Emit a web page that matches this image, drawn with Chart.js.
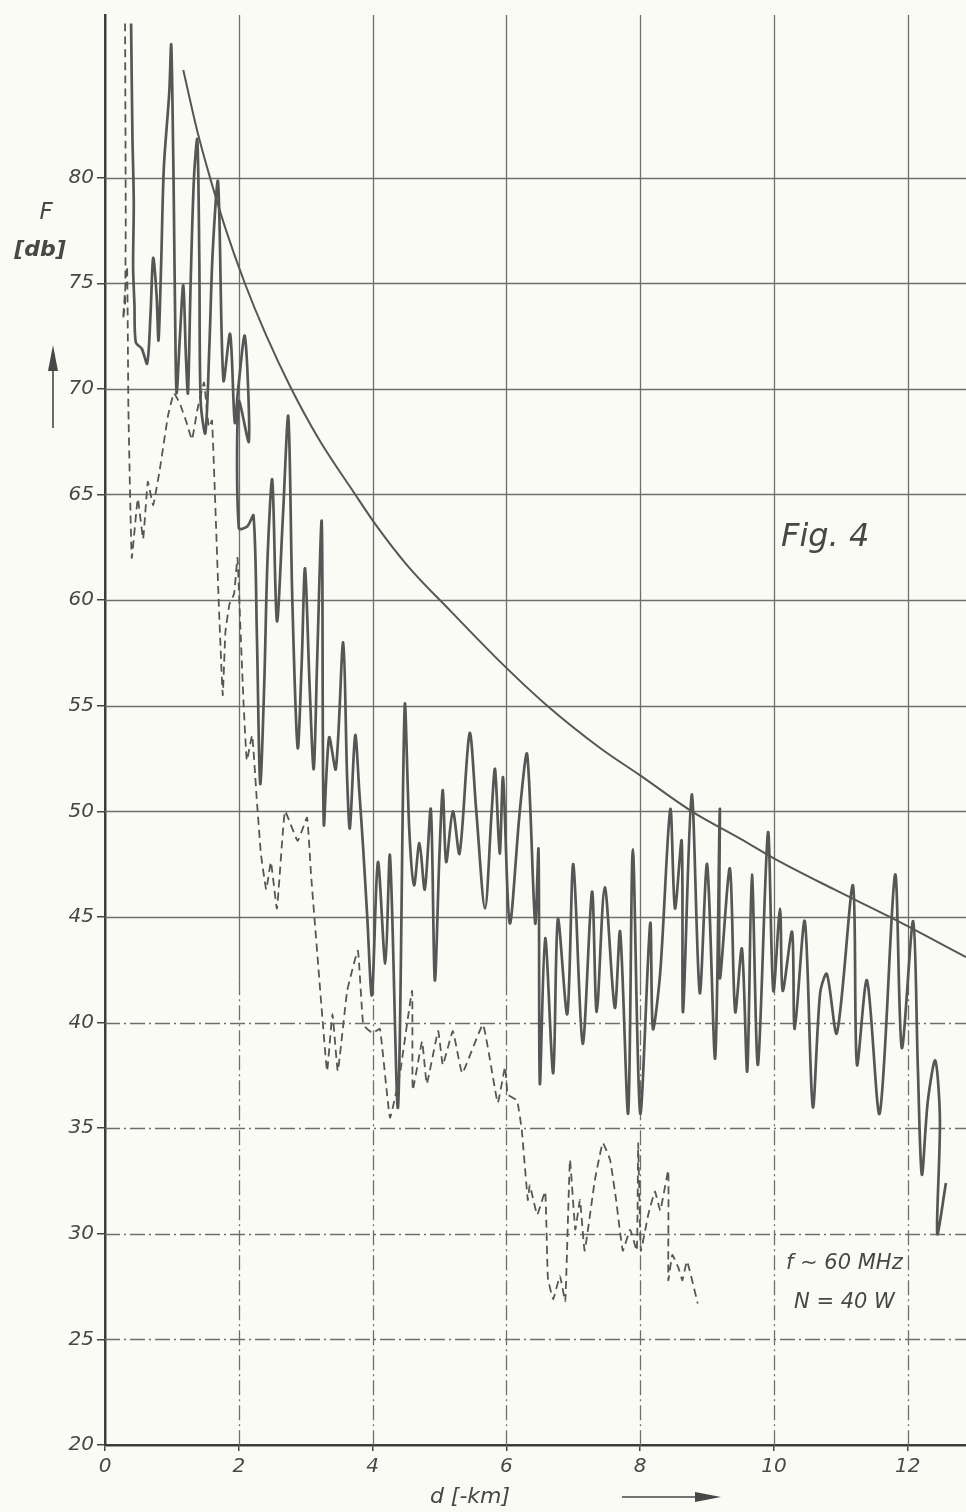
<!DOCTYPE html>
<html>
<head>
<meta charset="utf-8">
<script src="https://cdn.jsdelivr.net/npm/chart.js@4/dist/chart.umd.min.js"></script>
<style>
  html, body { margin: 0; padding: 0; background: #fbfbf6; }
  #wrap { width: 966px; height: 1512px; }
</style>
</head>
<body>
<div id="wrap"><canvas id="fig4" width="966" height="1512"></canvas></div>
<script>
// axis ticks
const xTicks = [0, 2, 4, 6, 8, 10, 12];
const yTicks = [20, 25, 30, 35, 40, 45, 50, 55, 60, 65, 70, 75, 80];

// measured field strength, solid trace (d in km, F in db)
const solidDist = [
  0.39, 0.41, 0.43, 0.42, 0.44, 0.46, 0.55, 0.63, 0.68, 0.72, 0.77, 0.80, 0.84, 0.88, 0.96, 0.99,
  1.02, 1.03, 1.05, 1.07, 1.12, 1.17, 1.21, 1.24, 1.28, 1.33, 1.38, 1.41, 1.43, 1.50, 1.56, 1.61,
  1.69, 1.77, 1.87, 1.94, 1.99, 2.09, 2.15, 2.00, 2.00, 2.13, 2.22, 2.27, 2.32, 2.38, 2.43, 2.50,
  2.57, 2.66, 2.74, 2.80, 2.88, 2.94, 2.99, 3.06, 3.12, 3.17, 3.24, 3.27, 3.35, 3.45, 3.56, 3.62,
  3.66, 3.74, 3.80, 3.86, 3.92, 3.99, 4.08, 4.19, 4.26, 4.38, 4.48, 4.55, 4.62, 4.70, 4.78, 4.87,
  4.93, 5.00, 5.05, 5.10, 5.20, 5.30, 5.45, 5.55, 5.68, 5.78, 5.83, 5.90, 5.95, 6.05, 6.20, 6.31,
  6.43, 6.48, 6.50, 6.58, 6.70, 6.77, 6.91, 7.00, 7.14, 7.28, 7.35, 7.47, 7.62, 7.70, 7.82, 7.89,
  8.00, 8.15, 8.19, 8.30, 8.45, 8.52, 8.62, 8.64, 8.77, 8.89, 9.00, 9.12, 9.19, 9.19, 9.34, 9.42,
  9.52, 9.60, 9.67, 9.76, 9.91, 9.99, 10.09, 10.13, 10.27, 10.31, 10.46, 10.58, 10.69, 10.79, 10.94, 11.18,
  11.24, 11.39, 11.58, 11.81, 11.91, 12.08, 12.15, 12.21, 12.30, 12.41, 12.48, 12.44, 12.57
];
const solidLevel = [
  87.3, 82.0, 78.8, 75.8, 74.0, 72.2, 71.9, 71.2, 73.5, 76.2, 74.5, 72.3, 76.0, 80.5, 84.0, 86.3,
  81.0, 78.5, 73.0, 69.8, 72.5, 74.9, 71.5, 69.8, 75.0, 80.0, 81.8, 76.0, 69.4, 67.9, 72.0, 76.5,
  79.8, 70.4, 72.6, 68.4, 70.0, 72.5, 67.5, 69.4, 63.4, 63.5, 64.0, 58.4, 51.3, 56.0, 62.0, 65.7,
  59.0, 64.0, 68.7, 60.0, 53.0, 57.0, 61.5, 55.8, 52.0, 57.0, 63.7, 49.4, 53.5, 52.0, 58.0, 51.5,
  49.2, 53.6, 51.0, 48.2, 45.0, 41.3, 47.6, 42.8, 47.9, 36.0, 55.0, 49.0, 46.5, 48.5, 46.3, 50.1,
  42.0, 48.0, 51.0, 47.6, 50.0, 48.0, 53.7, 50.0, 45.4, 50.0, 52.0, 48.0, 51.6, 44.7, 50.0, 52.7,
  44.7, 48.2, 37.1, 44.0, 37.6, 44.9, 40.4, 47.5, 39.0, 46.2, 40.5, 46.4, 40.7, 44.3, 35.7, 48.2,
  35.7, 44.7, 39.7, 42.4, 50.1, 45.4, 48.6, 40.5, 50.8, 41.4, 47.5, 38.3, 50.1, 42.1, 47.3, 40.5,
  43.5, 37.7, 47.0, 38.0, 49.0, 41.5, 45.4, 41.5, 44.3, 39.7, 44.8, 36.0, 41.4, 42.3, 39.5, 46.5,
  38.0, 42.0, 35.7, 47.0, 38.8, 44.8, 37.9, 32.8, 36.3, 38.2, 35.4, 30.0, 32.4
];

// second measurement, dashed trace
const dashedDist = [
  0.30, 0.31, 0.30, 0.27, 0.33, 0.35, 0.40, 0.49, 0.57, 0.64, 0.72, 0.82, 0.94, 1.03, 1.12, 1.22,
  1.30, 1.38, 1.48, 1.55, 1.60, 1.66, 1.70, 1.76, 1.80, 1.86, 1.93, 1.98, 2.02, 2.07, 2.12, 2.20,
  2.27, 2.33, 2.41, 2.48, 2.57, 2.69, 2.88, 3.02, 3.08, 3.25, 3.32, 3.40, 3.48, 3.62, 3.78, 3.86,
  4.00, 4.11, 4.26, 4.41, 4.59, 4.60, 4.74, 4.81, 4.98, 5.05, 5.20, 5.34, 5.65, 5.87, 5.98, 6.02,
  6.16, 6.23, 6.32, 6.35, 6.46, 6.58, 6.62, 6.70, 6.80, 6.88, 6.95, 7.03, 7.10, 7.17, 7.32, 7.44,
  7.55, 7.64, 7.74, 7.85, 7.95, 7.97, 8.01, 8.12, 8.22, 8.30, 8.42, 8.42, 8.48, 8.57, 8.63, 8.70,
  8.86
];
const dashedLevel = [
  87.3, 78.0, 74.0, 73.3, 75.8, 69.0, 62.0, 64.8, 62.9, 65.6, 64.5, 66.2, 68.7, 69.8, 69.3, 68.4,
  67.6, 69.0, 70.3, 68.2, 68.5, 63.5, 59.9, 55.5, 58.5, 59.8, 60.3, 62.0, 59.0, 55.2, 52.4, 53.6,
  50.5, 48.0, 46.3, 47.6, 45.4, 50.0, 48.6, 49.7, 47.0, 40.2, 37.7, 40.4, 37.7, 41.5, 43.4, 39.9,
  39.5, 39.7, 35.5, 37.6, 41.5, 36.8, 39.1, 37.1, 39.6, 38.0, 39.6, 37.6, 39.9, 36.2, 37.9, 36.6,
  36.3, 34.9, 31.6, 32.3, 30.9, 32.0, 27.9, 26.9, 28.0, 26.8, 33.5, 30.2, 31.6, 29.2, 32.5, 34.3,
  33.5, 31.6, 29.2, 30.2, 29.2, 34.3, 29.2, 30.9, 32.0, 31.1, 33.0, 27.8, 29.0, 28.4, 27.8, 28.7,
  26.7
];

// smooth upper bound curve
const curveDist = [1.17, 1.38, 1.57, 1.80, 2.09, 2.40, 2.77, 3.20, 3.74, 4.04, 4.53, 5.16, 5.90, 6.61, 7.40, 8.00, 8.77, 9.50, 10.04, 10.90, 11.73, 12.87];
const curveLevel = [85.1, 82.2, 80.0, 77.6, 75.0, 72.6, 70.1, 67.6, 65.0, 63.6, 61.6, 59.5, 57.1, 55.0, 53.0, 51.7, 50.0, 48.7, 47.7, 46.3, 45.0, 43.1];

const toPoints = (xs, ys) => xs.map((x, i) => ({ x, y: ys[i] }));

const ink = '#565656';
const textInk = '#474747';
const labelFont = { family: 'DejaVu Sans', style: 'italic', size: 20 };

function line(ctx, x1, y1, x2, y2) {
  ctx.beginPath();
  ctx.moveTo(x1, y1);
  ctx.lineTo(x2, y2);
  ctx.stroke();
}

function arrowHead(ctx, tipX, tipY, dx, dy, len, half) {
  // dx,dy: unit direction the arrow points to
  const bx = tipX - dx * len, by = tipY - dy * len;
  ctx.beginPath();
  ctx.moveTo(tipX, tipY);
  ctx.lineTo(bx - dy * half, by + dx * half);
  ctx.lineTo(bx + dy * half, by - dx * half);
  ctx.closePath();
  ctx.fill();
}

const paper = {
  id: 'paper',
  beforeDraw(chart) {
    const c = chart.ctx;
    c.save();
    c.fillStyle = '#fbfbf6';
    c.fillRect(0, 0, chart.width, chart.height);
    c.restore();
  },
  beforeDatasetsDraw(chart) {
    const { ctx, chartArea: a, scales: { x, y } } = chart;
    const dashDot = [15, 4, 2, 4];
    ctx.save();
    ctx.strokeStyle = '#6e6e6e';
    ctx.lineWidth = 1.3;
    // horizontal grid: solid in the upper part, dash-dot lower down
    yTicks.forEach(v => {
      if (v === yTicks[0]) return;
      const py = Math.round(y.getPixelForValue(v)) + 0.5;
      ctx.setLineDash(v >= 45 ? [] : dashDot);
      line(ctx, a.left, py, a.right, py);
    });
    // vertical grid
    const yBreak = y.getPixelForValue(42);
    xTicks.forEach(v => {
      if (v === xTicks[0]) return;
      const px = Math.round(x.getPixelForValue(v)) + 0.5;
      ctx.setLineDash([]);
      line(ctx, px, a.top, px, yBreak);
      ctx.setLineDash(dashDot);
      line(ctx, px, yBreak, px, a.bottom);
    });
    ctx.restore();
  },
  afterDraw(chart) {
    const ctx = chart.ctx;
    ctx.save();
    ctx.fillStyle = textInk;
    ctx.strokeStyle = textInk;
    ctx.textAlign = 'center';
    ctx.textBaseline = 'middle';

    // y axis title + arrow
    ctx.font = 'italic 23px "DejaVu Sans"';
    ctx.fillText('F', 46, 213);
    ctx.font = 'italic bold 22px "DejaVu Sans"';
    ctx.fillText('[db]', 40, 250);
    ctx.lineWidth = 1.6;
    line(ctx, 53, 428, 53, 368);
    arrowHead(ctx, 53, 345, 0, -1, 26, 5);

    // x axis title + arrow
    ctx.font = 'italic 22px "DejaVu Sans"';
    ctx.fillText('d [-km]', 470, 1497);
    line(ctx, 622, 1497, 700, 1497);
    arrowHead(ctx, 721, 1497, 1, 0, 26, 5);

    // annotations
    ctx.textAlign = 'left';
    ctx.textBaseline = 'alphabetic';
    ctx.font = 'italic 32px "DejaVu Sans"';
    ctx.fillText('Fig. 4', 781, 546);
    ctx.font = 'italic 21px "DejaVu Sans"';
    ctx.fillText('f ∼ 60 MHz', 786, 1269);
    ctx.fillText('N = 40 W', 794, 1308);
    ctx.restore();
  }
};

new Chart(document.getElementById('fig4'), {
  type: 'scatter',
  data: {
    datasets: [
      {
        label: 'curve',
        data: toPoints(curveDist, curveLevel),
        showLine: true,
        borderColor: ink,
        borderWidth: 2,
        cubicInterpolationMode: 'monotone',
        pointRadius: 0
      },
      {
        label: 'solid',
        data: toPoints(solidDist, solidLevel),
        showLine: true,
        borderColor: ink,
        borderWidth: 2.7,
        tension: 0.3,
        pointRadius: 0
      },
      {
        label: 'dashed',
        data: toPoints(dashedDist, dashedLevel),
        showLine: true,
        borderColor: ink,
        borderWidth: 1.8,
        borderDash: [8, 5],
        tension: 0.1,
        pointRadius: 0
      }
    ]
  },
  options: {
    responsive: false,
    animation: false,
    layout: { padding: { top: 12, right: 0, bottom: 0, left: 0 } },
    plugins: {
      legend: { display: false },
      tooltip: { enabled: false }
    },
    scales: {
      x: {
        type: 'linear',
        min: 0,
        max: 12.87,
        afterBuildTicks: s => { s.ticks = xTicks.map(v => ({ value: v })); },
        afterFit: s => { s.height = 67; },
        ticks: { font: labelFont, color: textInk, padding: 4, maxRotation: 0 },
        grid: { drawOnChartArea: false, drawTicks: true, tickLength: 6, color: '#444', lineWidth: 1.5 },
        border: { display: true, color: '#3c3c3c', width: 2.5 }
      },
      y: {
        min: 20,
        max: 87.7,
        afterBuildTicks: s => { s.ticks = yTicks.map(v => ({ value: v })); },
        afterFit: s => { s.width = 105; },
        ticks: { font: labelFont, color: textInk, padding: 3 },
        grid: { drawOnChartArea: false, drawTicks: true, tickLength: 8, color: '#444', lineWidth: 1.5 },
        border: { display: true, color: '#3c3c3c', width: 2.5 }
      }
    }
  },
  plugins: [paper]
});
</script>
</body>
</html>
